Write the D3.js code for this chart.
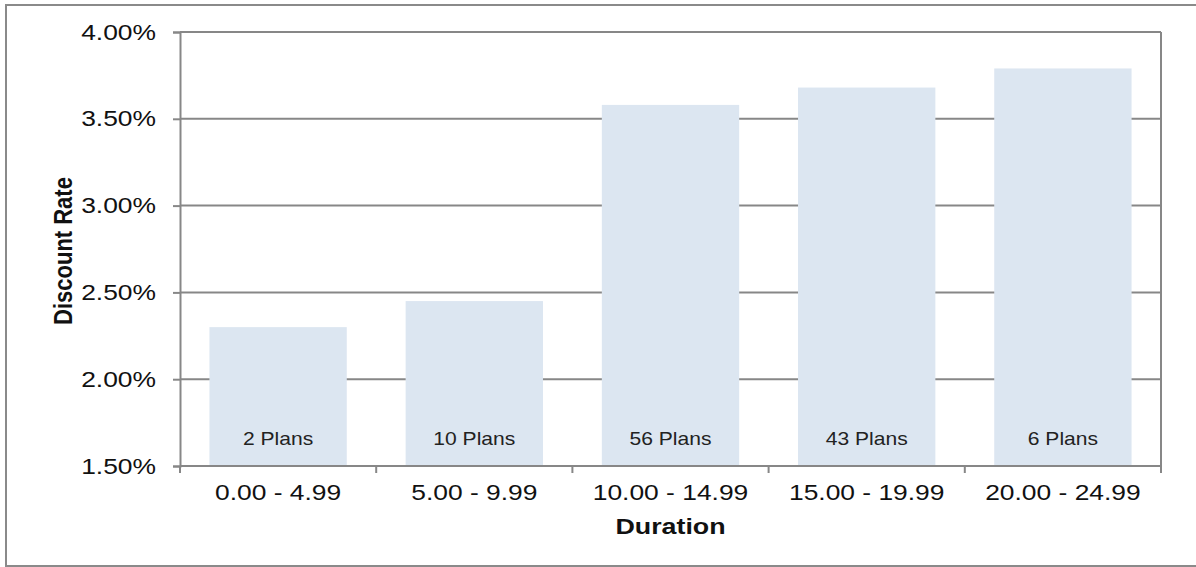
<!DOCTYPE html>
<html>
<head>
<meta charset="utf-8">
<script src="https://cdn.jsdelivr.net/npm/d3@7"></script>
<style>
  html, body { margin: 0; padding: 0; background: #fff; }
  svg { display: block; font-family: "Liberation Sans", Arial, sans-serif; }
</style>
</head>
<body>
<svg id="chart" width="1196" height="567"></svg>
<script>
// Duration buckets, average discount rate (%) and number of plans per bucket
const categories = ["0.00 - 4.99", "5.00 - 9.99", "10.00 - 14.99", "15.00 - 19.99", "20.00 - 24.99"];
const rates = [2.30, 2.45, 3.58, 3.68, 3.79];
const planCounts = ["2 Plans", "10 Plans", "56 Plans", "43 Plans", "6 Plans"];
const yTicks = [1.5, 2.0, 2.5, 3.0, 3.5, 4.0];

const svg = d3.select("#chart");
const W = 1196, H = 567;
const plot = { left: 180, top: 32, right: 1161, bottom: 466 };
const gridColor = "#878787";
const textColor = "#111";
const wide = 1.2; // horizontal stretch of the lettering

// Outer chart border
svg.append("rect")
  .attr("x", 6).attr("y", 5)
  .attr("width", W + 10).attr("height", H - 6)
  .attr("fill", "#fff")
  .attr("stroke", "#8a8a8a").attr("stroke-width", 2);

const x = d3.scaleBand()
  .domain(categories)
  .range([plot.left, plot.right])
  .paddingInner(0.3)
  .paddingOuter(0.15);

const y = d3.scaleLinear()
  .domain([1.5, 4.0])
  .range([plot.bottom, plot.top]);

// Horizontal gridlines
svg.append("g")
  .selectAll("line")
  .data(yTicks.slice(1))
  .join("line")
  .attr("x1", plot.left).attr("x2", plot.right)
  .attr("y1", d => y(d)).attr("y2", d => y(d))
  .attr("stroke", gridColor).attr("stroke-width", 2);

// Right edge of the plot area
svg.append("line")
  .attr("x1", plot.right).attr("x2", plot.right)
  .attr("y1", plot.top).attr("y2", plot.bottom)
  .attr("stroke", gridColor).attr("stroke-width", 2);

// Bars
svg.append("g")
  .selectAll("rect")
  .data(rates)
  .join("rect")
  .attr("x", (d, i) => x(categories[i]))
  .attr("width", x.bandwidth())
  .attr("y", d => y(d))
  .attr("height", d => y(1.5) - y(d))
  .attr("fill", "#dce6f1");

// Plan counts inside each bar
svg.append("g")
  .selectAll("text")
  .data(planCounts)
  .join("text")
  .attr("transform", (d, i) => `translate(${x(categories[i]) + x.bandwidth() / 2},${plot.bottom - 21}) scale(1.17,1)`)
  .attr("text-anchor", "middle")
  .attr("font-size", 18)
  .attr("fill", "#222")
  .text(d => d);

// Y axis
const yAxis = svg.append("g")
  .attr("transform", `translate(${plot.left},0)`)
  .call(d3.axisLeft(y).tickValues(yTicks).tickFormat(d => d.toFixed(2) + "%").tickSize(7));
yAxis.select(".domain").attr("stroke", gridColor).attr("stroke-width", 2);
yAxis.selectAll(".tick line").attr("stroke", gridColor).attr("stroke-width", 2);
yAxis.selectAll(".tick text")
  .attr("x", 0)
  .attr("dy", "0.32em")
  .attr("transform", `translate(-24,0) scale(${wide},1)`)
  .attr("font-size", 22)
  .attr("fill", textColor)
  .attr("font-family", "Liberation Sans, Arial, sans-serif");

// X axis with ticks at category boundaries
const xAxis = svg.append("g")
  .attr("transform", `translate(0,${plot.bottom})`);
xAxis.append("line")
  .attr("x1", plot.left).attr("x2", plot.right)
  .attr("stroke", gridColor).attr("stroke-width", 2);
const step = (plot.right - plot.left) / categories.length;
xAxis.selectAll("line.tick")
  .data(d3.range(categories.length + 1))
  .join("line")
  .attr("class", "tick")
  .attr("x1", i => plot.left + i * step).attr("x2", i => plot.left + i * step)
  .attr("y1", 0).attr("y2", 7)
  .attr("stroke", gridColor).attr("stroke-width", 2);
xAxis.selectAll("text")
  .data(categories)
  .join("text")
  .attr("transform", d => `translate(${x(d) + x.bandwidth() / 2},34) scale(${wide},1)`)
  .attr("text-anchor", "middle")
  .attr("font-size", 22)
  .attr("fill", textColor)
  .text(d => d);

// Axis titles
svg.append("text")
  .attr("transform", `translate(${(plot.left + plot.right) / 2},534) scale(1.22,1)`)
  .attr("text-anchor", "middle")
  .attr("font-size", 22)
  .attr("font-weight", "bold")
  .attr("fill", textColor)
  .text("Duration");

svg.append("text")
  .attr("transform", `translate(72,${(plot.top + plot.bottom) / 2 + 2}) rotate(-90) scale(1,1.15)`)
  .attr("text-anchor", "middle")
  .attr("font-size", 22)
  .attr("font-weight", "bold")
  .attr("fill", textColor)
  .text("Discount Rate");
</script>
</body>
</html>
